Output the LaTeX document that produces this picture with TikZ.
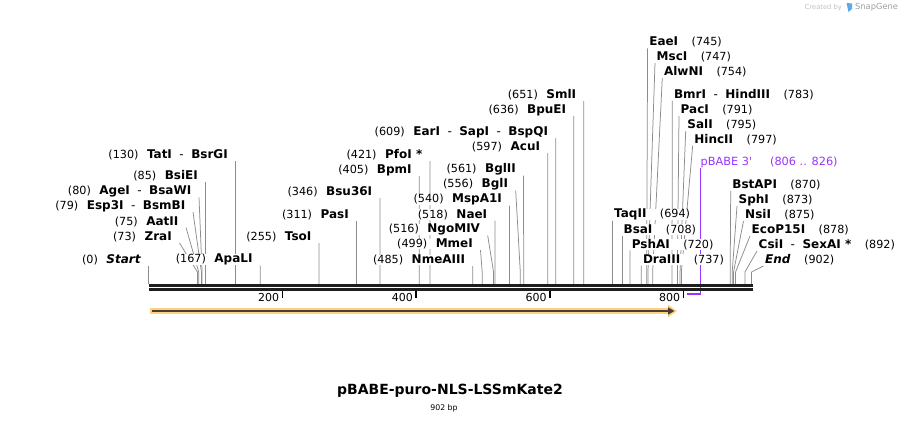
\documentclass[tikz,border=0pt]{standalone}
\usepackage{fontspec}
\setmainfont{DejaVu Sans}
\newfontfamily\primerfont{DejaVu Sans}
\usetikzlibrary{arrows.meta,backgrounds}

\definecolor{sitegray}{RGB}{140,140,140}
\definecolor{primerviolet}{RGB}{153,51,255}
\definecolor{featorange}{RGB}{255,208,128}
\definecolor{featdark}{RGB}{72,64,56}
\definecolor{bbblack}{RGB}{30,30,30}
\definecolor{sgblue}{RGB}{90,170,235}

\newcommand\lsite[2]{{\fontsize{11.2}{13}\selectfont(#1)}\hspace{8.5pt}\textbf{#2}}
\newcommand\rsite[2]{\textbf{#1}\hspace{13.5pt}{\fontsize{11.2}{13}\selectfont(#2)}}
\newcommand\alsoc{\hspace{7.5pt}{\mdseries -}\hspace{7.5pt}}

\tikzset{
  lab/.style={inner xsep=1.5pt, inner ysep=0pt, fill=white, font=\fontsize{12}{14}\selectfont},
  llab/.style={lab, anchor=east},
  rlab/.style={lab, anchor=west},
  cut/.style={draw=sitegray, line width=0.75pt},
  backbone/.style={draw=bbblack, line width=2.7pt},
  tick/.style={draw=black, line width=1.6pt},
  ticklab/.style={inner sep=0pt, anchor=east, font=\fontsize{11}{13}\selectfont},
  primer/.style={draw=primerviolet, line width=1.4pt},
  featglow/.style={draw=featorange, line width=5.4pt, -{Triangle[length=9pt,width=12pt]}},
  featline/.style={draw=featdark, line width=2pt, -{Triangle[length=6.5pt,width=7pt]}}
}

\begin{document}
\begin{tikzpicture}[x=1pt,y=-1pt]
      \useasboundingbox (0,0) rectangle (902,423);

      \foreach \p in {0,73,75,79,80,85,130,167,255,311,346,405,421,485,499,516,518,540,556,561,597,609,636,651,694,708,720,737,745,747,754,783,791,795,797,870,873,875,878,892,902}
        \coordinate (s\p) at ({148.6+0.6685*\p},284);
      \coordinate (p806) at ({148.6+0.6685*806},294);

      \draw[backbone] (149,285.3) -- (752.6,285.3);
      \draw[backbone] (149,289.4) -- (752.6,289.4);
      \foreach \t in {200,400,600,800} {
        \draw[tick] ({148.6+0.6685*\t},290.6) -- ++(0,7.2);
        \node[ticklab] (t\t) at ({145.6+0.6685*\t},297.5) {\t};
      }

      \coordinate (f1) at (150,311);
      \coordinate (f2) at (677,311);
      \draw[featglow] (f1) -- (f2);
      \draw[featline] ([shift={(1.5,0)}]f1) -- ([shift={(-2.5,0)}]f2);

      \node[llab] (start) at (142.6,259.5) {\lsite{0}{\textit{Start}}};
      \node[llab] (zra) at (173.5,237) {\lsite{73}{ZraI}};
      \node[llab] (aat) at (180,221.5) {\lsite{75}{AatII}};
      \node[llab] (esp) at (187,206) {\lsite{79}{Esp3I\alsoc BsmBI}};
      \node[llab] (age) at (193,191.5) {\lsite{80}{AgeI\alsoc BsaWI}};
      \node[llab] (bsie) at (199.6,176) {\lsite{85}{BsiEI}};
      \node[llab] (tat) at (229.5,155) {\lsite{130}{TatI\alsoc BsrGI}};
      \node[llab] (apa) at (254.2,259.5) {\lsite{167}{ApaLI}};
      \node[llab] (tso) at (313.1,237) {\lsite{255}{TsoI}};
      \node[llab] (pas) at (350.5,215) {\lsite{311}{PasI}};
      \node[llab] (bsu) at (373.9,192) {\lsite{346}{Bsu36I}};
      \node[llab] (bpm) at (413.3,170) {\lsite{405}{BpmI}};
      \node[llab] (pfo) at (424,155) {\lsite{421}{PfoI *}};
      \node[llab] (nme) at (466.8,260) {\lsite{485}{NmeAIII}};
      \node[llab] (mme) at (474.5,244) {\lsite{499}{MmeI}};
      \node[llab] (ngo) at (481.7,229.5) {\lsite{516}{NgoMIV}};
      \node[llab] (nae) at (488.9,214.5) {\lsite{518}{NaeI}};
      \node[llab] (msp) at (503.6,199.5) {\lsite{540}{MspA1I}};
      \node[llab] (bgli) at (509.7,184.5) {\lsite{556}{BglI}};
      \node[llab] (bglii) at (517.6,169.5) {\lsite{561}{BglII}};
      \node[llab] (acu) at (541.7,147) {\lsite{597}{AcuI}};
      \node[llab] (ear) at (549.7,132) {\lsite{609}{EarI\alsoc SapI\alsoc BspQI}};
      \node[llab] (bpu) at (567.8,110) {\lsite{636}{BpuEI}};
      \node[llab] (sml) at (577.8,95) {\lsite{651}{SmlI}};

      \node[rlab] (taq) at (612.5,214.5) {\rsite{TaqII}{694}};
      \node[rlab] (bsa) at (621.9,229.5) {\rsite{BsaI}{708}};
      \node[rlab] (psh) at (630.1,244.3) {\rsite{PshAI}{720}};
      \node[rlab] (dra) at (641.3,259.5) {\rsite{DraIII}{737}};
      \node[rlab] (eae) at (647.6,42.3) {\rsite{EaeI}{745}};
      \node[rlab] (msc) at (655,57) {\rsite{MscI}{747}};
      \node[rlab] (alw) at (662.3,72) {\rsite{AlwNI}{754}};
      \node[rlab] (bmr) at (672.3,94.5) {\rsite{BmrI\alsoc HindIII}{783}};
      \node[rlab] (pac) at (679,110) {\rsite{PacI}{791}};
      \node[rlab] (sal) at (685.7,125) {\rsite{SalI}{795}};
      \node[rlab] (hinc) at (692.7,139.5) {\rsite{HincII}{797}};
      \node[rlab] (bst) at (730.7,184.5) {\rsite{BstAPI}{870}};
      \node[rlab] (sph) at (737,200) {\rsite{SphI}{873}};
      \node[rlab] (nsi) at (743.5,215) {\rsite{NsiI}{875}};
      \node[rlab] (eco) at (750,230) {\rsite{EcoP15I}{878}};
      \node[rlab] (csi) at (757,245) {\rsite{CsiI\alsoc SexAI *}{892}};
      \node[rlab] (end) at (763.5,260) {\rsite{\textit{End}}{902}};

      \node[anchor=west, inner sep=0pt, text=primerviolet, font=\primerfont\fontsize{11.3}{13}\selectfont] (pbabe) at (700.5,162) {pBABE 3'\hspace{18pt}(806 .. 826)};

      \begin{scope}[on background layer]
        \draw[cut] (s0) -- ++(0,-12) -- ([shift={(6,6)}]start.east);
        \draw[cut] (s73) -- ++(0,-12) -- ([shift={(6,6)}]zra.east);
        \draw[cut] (s75) -- ++(0,-12) -- ([shift={(6,6)}]aat.east);
        \draw[cut] (s79) -- ++(0,-12) -- ([shift={(6,6)}]esp.east);
        \draw[cut] (s80) -- ++(0,-12) -- ([shift={(6,6)}]age.east);
        \draw[cut] (s85) -- ++(0,-12) -- ([shift={(6,6)}]bsie.east);
        \draw[cut] (s130) -- ++(0,-12) -- ([shift={(6,6)}]tat.east);
        \draw[cut] (s167) -- ++(0,-12) -- ([shift={(6,6)}]apa.east);
        \draw[cut] (s255) -- ++(0,-12) -- ([shift={(6,6)}]tso.east);
        \draw[cut] (s311) -- ++(0,-12) -- ([shift={(6,6)}]pas.east);
        \draw[cut] (s346) -- ++(0,-12) -- ([shift={(6,6)}]bsu.east);
        \draw[cut] (s405) -- ++(0,-12) -- ([shift={(6,6)}]bpm.east);
        \draw[cut] (s421) -- ++(0,-12) -- ([shift={(6,6)}]pfo.east);
        \draw[cut] (s485) -- ++(0,-12) -- ([shift={(6,6)}]nme.east);
        \draw[cut] (s499) -- ++(0,-12) -- ([shift={(6,6)}]mme.east);
        \draw[cut] (s516) -- ++(0,-12) -- ([shift={(6,6)}]ngo.east);
        \draw[cut] (s518) -- ++(0,-12) -- ([shift={(6,6)}]nae.east);
        \draw[cut] (s540) -- ++(0,-12) -- ([shift={(6,6)}]msp.east);
        \draw[cut] (s556) -- ++(0,-12) -- ([shift={(6,6)}]bgli.east);
        \draw[cut] (s561) -- ++(0,-12) -- ([shift={(6,6)}]bglii.east);
        \draw[cut] (s597) -- ++(0,-12) -- ([shift={(6,6)}]acu.east);
        \draw[cut] (s609) -- ++(0,-12) -- ([shift={(6,6)}]ear.east);
        \draw[cut] (s636) -- ++(0,-12) -- ([shift={(6,6)}]bpu.east);
        \draw[cut] (s651) -- ++(0,-12) -- ([shift={(6,6)}]sml.east);

        \draw[cut] (s694) -- ++(0,-12) -- ([shift={(0,6)}]taq.west);
        \draw[cut] (s708) -- ++(0,-12) -- ([shift={(0,6)}]bsa.west);
        \draw[cut] (s720) -- ++(0,-12) -- ([shift={(0,6)}]psh.west);
        \draw[cut] (s737) -- ++(0,-12) -- ([shift={(0,6)}]dra.west);
        \draw[cut] (s745) -- ++(0,-12) -- ([shift={(0,6)}]eae.west);
        \draw[cut] (s747) -- ++(0,-12) -- ([shift={(0,6)}]msc.west);
        \draw[cut] (s754) -- ++(0,-12) -- ([shift={(0,6)}]alw.west);
        \draw[cut] (s783) -- ++(0,-12) -- ([shift={(0,6)}]bmr.west);
        \draw[cut] (s791) -- ++(0,-12) -- ([shift={(0,6)}]pac.west);
        \draw[cut] (s795) -- ++(0,-12) -- ([shift={(0,6)}]sal.west);
        \draw[cut] (s797) -- ++(0,-12) -- ([shift={(0,6)}]hinc.west);
        \draw[cut] (s870) -- ++(0,-12) -- ([shift={(0,6)}]bst.west);
        \draw[cut] (s873) -- ++(0,-12) -- ([shift={(0,6)}]sph.west);
        \draw[cut] (s875) -- ++(0,-12) -- ([shift={(0,6)}]nsi.west);
        \draw[cut] (s878) -- ++(0,-12) -- ([shift={(0,6)}]eco.west);
        \draw[cut] (s892) -- ++(0,-12) -- ([shift={(0,6)}]csi.west);
        \draw[cut] (s902) -- ++(0,-12) -- ([shift={(0,6)}]end.west);

        \draw[primer] ([shift={(0,6)}]pbabe.west) |- (p806);
      \end{scope}

      \node[inner sep=0pt, font=\bfseries\fontsize{14}{16}\selectfont] (title) at (450,391) {pBABE-puro-NLS-LSSmKate2};
      \node[inner sep=0pt, font=\fontsize{7.8}{9}\selectfont] (size) at (444,408) {902 bp};

      \node[anchor=east, inner sep=0pt, text=gray!50, font=\fontsize{6.7}{8}\selectfont] (made) at (842,7.5) {Created by};
      \fill[sgblue] (846.5,3) -- (852,3.5) -- (852,9) -- (848.5,12) -- cycle;
      \node[anchor=west, inner sep=0pt, text=gray!75, font=\fontsize{8.3}{10}\selectfont] (snap) at (855,7.5) {SnapGene};
\end{tikzpicture}
\end{document}
